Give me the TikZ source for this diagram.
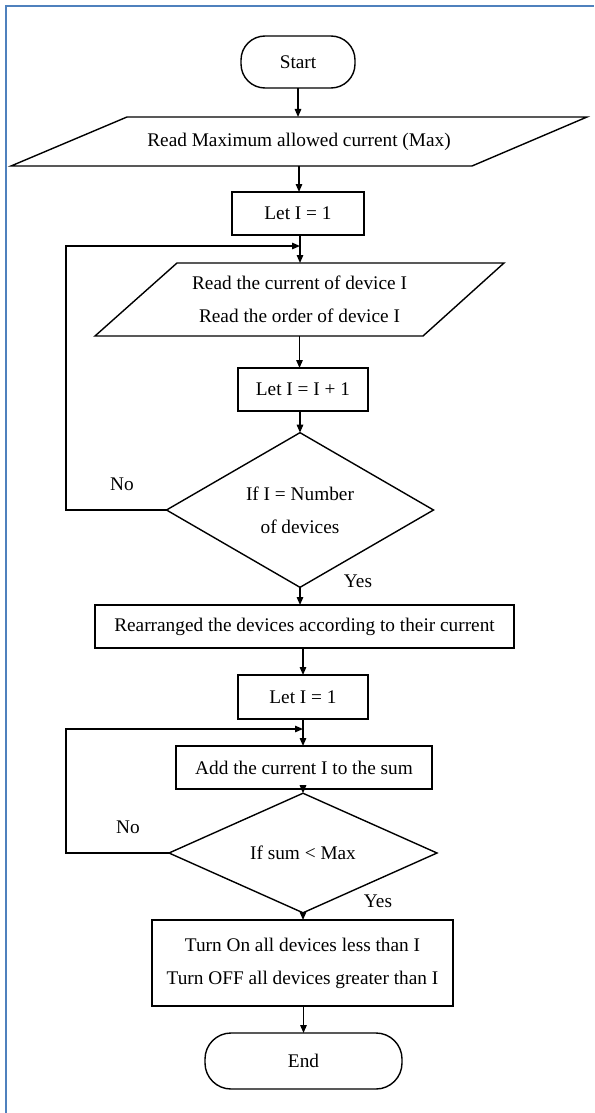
\documentclass[tikz,border=0pt]{standalone}
\usepackage{fontspec}
\setmainfont{Liberation Serif}
\usetikzlibrary{shapes.geometric,arrows.meta,calc}
\definecolor{frameblue}{RGB}{79,129,189}
\begin{document}
\begin{tikzpicture}[x=1pt,y=-1pt,
  every node/.style={font=\fontsize{19.3}{33}\selectfont, inner sep=0pt, outer sep=0pt},
  proc/.style={draw, line width=1.4pt, rectangle, align=center},
  term/.style={draw, line width=1.4pt, rectangle, rounded corners=24pt},
  dec/.style={draw, line width=1.4pt, diamond, align=center},
  io/.style={rectangle, align=center},
  ln/.style={line width=1.4pt, line join=miter},
  arr/.style={line width=1.4pt, -{Triangle[length=8pt,width=6.5pt]}}]
\useasboundingbox (0,0) rectangle (594,1113);
% frame (top and left only)
\draw[frameblue, line width=2.2pt] (5.8,1113) -- (5.8,5.8) -- (594,5.8);

% nodes
\node[term, minimum width=114pt, minimum height=52pt] (start) at (298,62) {Start};
\node[io, minimum width=345pt, minimum height=49pt] (read1) at (299,141.5) {Read Maximum allowed current (Max)};
\draw[ln] ($(read1.north)+(-172,0)$) -- ($(read1.north)+(288,0)$) -- ($(read1.south)+(173,0)$) -- ($(read1.south)+(-288,0)$) -- cycle;
\node[proc, minimum width=132pt, minimum height=43pt] (let1) at (298,213.5) {Let I = 1};
\node[io, minimum width=245pt, minimum height=73pt] (read2) at (299.5,299.5) {Read the current of device I\\Read the order of device I};
\draw[ln] ($(read2.north)+(-122.5,0)$) -- ($(read2.north)+(204.5,0)$) -- ($(read2.south)+(123.5,0)$) -- ($(read2.south)+(-204.5,0)$) -- cycle;
\node[proc, minimum width=130pt, minimum height=43pt] (inc) at (303,389.5) {Let I = I + 1};
\node[dec, minimum width=267pt, minimum height=134pt] (dec1) at (300,510) {If I = Number\\of devices};
\node[proc, minimum width=419pt, minimum height=43pt] (rearr) at (304.5,626.5) {Rearranged the devices according to their current};
\node[proc, minimum width=130pt, minimum height=44pt] (let2) at (303,697) {Let I = 1};
\node[proc, minimum width=256pt, minimum height=43pt] (add) at (304,767.5) {Add the current I to the sum};
\node[dec, minimum width=268pt, minimum height=79pt] (dec2) at (303,853) {If sum < Max};
\node[proc, minimum width=301pt, minimum height=86pt] (turn) at (302.5,963) {Turn On all devices less than I\\Turn OFF all devices greater than I};
\node[term, minimum width=197pt, minimum height=56pt, rounded corners=26pt] (end) at (303.5,1061) {End};

% labels
\node (no1) at (122,484) {No};
\node (yes1) at (358,581) {Yes};
\node (no2) at (128,827) {No};
\node (yes2) at (378,901) {Yes};

% helper coordinates
\coordinate (lx) at (66,0);
\coordinate (j1) at (300,246);
\coordinate (j2) at (303,729);

% connectors
\draw[arr] (start.south) -- (start.south |- read1.north);
\draw[arr] (read1.south) -- (read1.south |- let1.north);
\draw[arr] (let1.south -| j1) -- (j1 |- read2.north);
\draw[arr] (read2.south) -- (read2.south |- inc.north);
\draw[arr] (inc.south -| dec1.north) -- (dec1.north);
\draw[arr] (dec1.south) -- (dec1.south |- rearr.north);
\draw[arr] (rearr.south -| let2.south) -- (let2.north);
\draw[arr] (let2.south) -- (let2.south |- add.north);
\draw[arr] (add.south -| dec2.north) -- (dec2.north);
\draw[arr] (dec2.south) -- (dec2.south |- turn.north);
\draw[arr] (turn.south -| end.north) -- (end.north);
% loops
\draw[arr, line join=miter] (dec1.west) -- (dec1.west -| lx) |- (j1);
\draw[arr, line join=miter] (dec2.west) -- (dec2.west -| lx) |- (j2);
\end{tikzpicture}
\end{document}
